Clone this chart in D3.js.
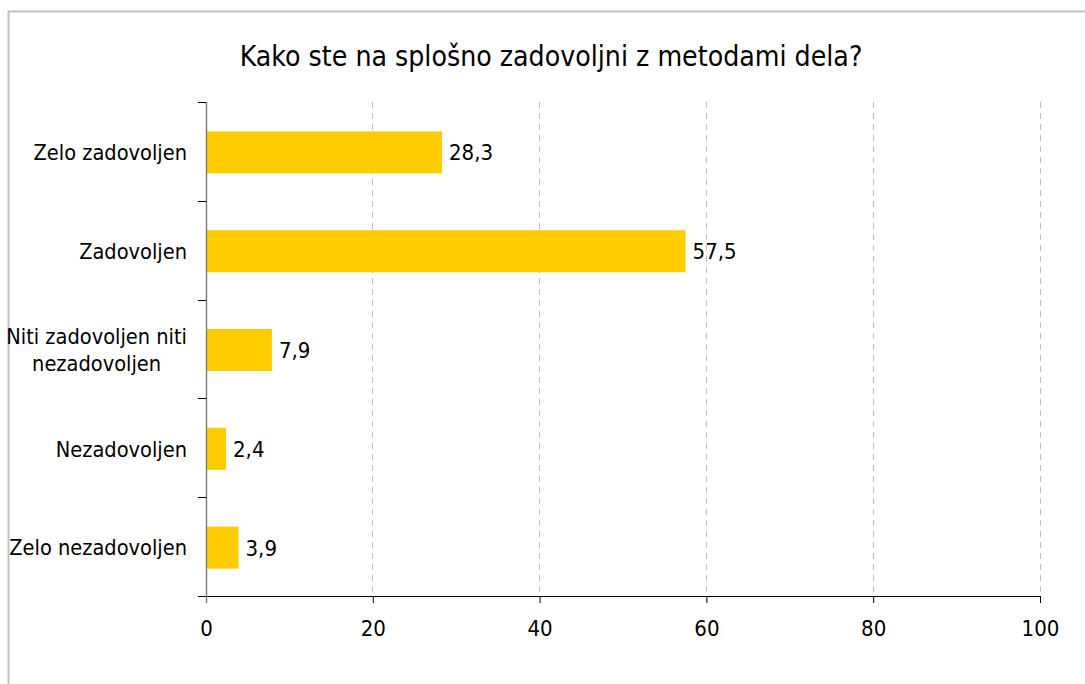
<!DOCTYPE html>
<html><head><meta charset="utf-8">
<script src="https://cdn.jsdelivr.net/npm/d3@7"></script>
<style>body{margin:0;background:#fff;} svg{display:block;}</style>
</head><body>
<svg id="c" width="1085" height="684"></svg>
<script>
const title = "Kako ste na splošno zadovoljni z metodami dela?";
const categories = ["Zelo zadovoljen", "Zadovoljen", "Niti zadovoljen niti nezadovoljen", "Nezadovoljen", "Zelo nezadovoljen"];
const categoryLines = [["Zelo zadovoljen"], ["Zadovoljen"], ["Niti zadovoljen niti", "nezadovoljen"], ["Nezadovoljen"], ["Zelo nezadovoljen"]];
const values = [28.3, 57.5, 7.9, 2.4, 3.9];
const xTicks = [0, 20, 40, 60, 80, 100];

const FONT = "'DejaVu Sans Condensed', 'DejaVu Sans', sans-serif";
const svg = d3.select("#c");
const W = 1085, H = 684;
const L = 206, R = 1040, T = 102, B = 596;

svg.append("rect").attr("x", 8.5).attr("y", 11.5).attr("width", W + 10).attr("height", H + 10)
  .attr("fill", "#fff").attr("stroke", "#c0c0c0").attr("stroke-width", 2);

const x = d3.scaleLinear().domain([0, 100]).range([L, R]);
const y = d3.scaleBand().domain(categories).range([T, B]).paddingInner(0.575).paddingOuter(0.2875);

// grid
svg.append("g").selectAll("line").data(xTicks.filter(d => d > 0)).join("line")
  .attr("x1", d => x(d)).attr("x2", d => x(d)).attr("y1", T).attr("y2", B)
  .attr("stroke", "#c0c0c0").attr("stroke-width", 1).attr("stroke-dasharray", "6,5")
  .attr("shape-rendering", "crispEdges");

// bars
svg.append("g").selectAll("rect").data(values).join("rect")
  .attr("x", x(0)).attr("y", (d, i) => y(categories[i]) + 1)
  .attr("width", d => x(d) - x(0)).attr("height", y.bandwidth())
  .attr("fill", "#ffcc00");

// value labels
svg.append("g").selectAll("text").data(values).join("text")
  .attr("x", d => x(d) + 7).attr("y", (d, i) => y(categories[i]) + 1 + y.bandwidth() / 2)
  .attr("dy", "0.36em").attr("font-family", FONT).attr("font-size", 22).attr("fill", "#000")
  .text(d => d.toFixed(1).replace(".", ","));

// x axis
const xAxis = svg.append("g").attr("transform", `translate(0,${B})`)
  .call(d3.axisBottom(x).tickValues(xTicks).tickSize(7).tickPadding(17).tickFormat(d => d));
xAxis.select(".domain").remove();
xAxis.selectAll(".tick line").attr("stroke", "#000");
xAxis.selectAll("text").attr("font-family", FONT).attr("font-size", 22).attr("fill", "#000");
svg.append("line").attr("x1", L - 8).attr("x2", R).attr("y1", B + 0.5).attr("y2", B + 0.5)
  .attr("stroke", "#000").attr("stroke-width", 1);

// y axis line and category boundary ticks
svg.append("line").attr("x1", L + 0.5).attr("x2", L + 0.5).attr("y1", T).attr("y2", B + 7)
  .attr("stroke", "#808080").attr("stroke-width", 1.5);
const bounds = categories.map(c => y(c) - y.step() * y.paddingInner() / 2).concat([B]);
bounds[0] = T;
svg.append("g").selectAll("line").data(bounds.slice(0, -1)).join("line")
  .attr("x1", L - 8).attr("x2", L).attr("y1", d => Math.round(d) + 0.5).attr("y2", d => Math.round(d) + 0.5)
  .attr("stroke", "#000").attr("stroke-width", 1);

// category labels
const LX = 187;
const lab = svg.append("g");
categoryLines.forEach((lines, i) => {
  const cy = y(categories[i]) + 1 + y.bandwidth() / 2;
  const lh = 27;
  const t = lab.append("text").attr("font-family", FONT).attr("font-size", 21.6).attr("fill", "#000");
  const spans = lines.map((ln, j) => t.append("tspan").text(ln));
  if (lines.length === 1) {
    t.attr("text-anchor", "end").attr("x", LX).attr("y", cy).attr("dy", "0.36em");
  } else {
    const maxW = d3.max(spans, s => s.node().getComputedTextLength());
    const cx = LX - maxW / 2;
    t.attr("text-anchor", "middle");
    spans.forEach((s, j) => s.attr("x", cx).attr("y", cy + (j - (lines.length - 1) / 2) * lh).attr("dy", "0.36em"));
  }
});

// title
svg.append("text").attr("x", 551).attr("y", 66).attr("text-anchor", "middle")
  .attr("font-family", FONT).attr("font-size", 28.2).attr("fill", "#000").text(title);
</script>
</body></html>
